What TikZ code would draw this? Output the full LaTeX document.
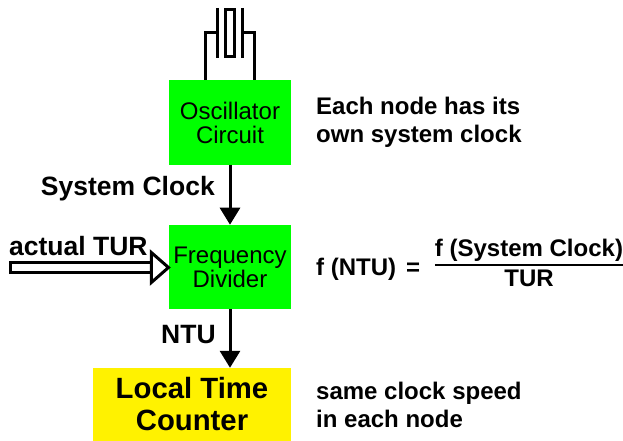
\documentclass[tikz,border=0pt]{standalone}
\usepackage{fontspec}
\setmainfont{Liberation Sans}
\usepackage{xcolor}
\colorlet{colorBlock}{green}
\colorlet{colorCounter}{yellow}
\usetikzlibrary{arrows.meta, positioning}
\tikzset{
  block/.style={fill=colorBlock, minimum width=122pt, minimum height=84pt, inner sep=0pt, align=center, font=\fontsize{24}{24}\selectfont},
  counter/.style={fill=colorCounter, minimum width=198pt, minimum height=73pt, inner sep=0pt, align=center, font=\fontsize{29.3}{32}\selectfont\bfseries},
  note/.style={inner sep=0pt, align=left, font=\fontsize{24}{28}\selectfont\bfseries},
  label/.style={inner sep=0pt, font=\fontsize{26.5}{28}\selectfont\bfseries},
  wire/.style={line width=3pt},
  flow/.style={line width=3pt, -{Triangle[length=17pt, width=20pt]}}
}
\begin{document}
\begin{tikzpicture}[x=1pt, y=1pt]
\useasboundingbox (0,0) rectangle (623,-441);
\node[block] (osc) at (230,-122.5) {Oscillator\\Circuit};
\node[block, below=60pt of osc] (div) {Frequency\\Divider};
\node[counter] (ltc) at (192,-404.5) {Local Time\\Counter};
\node[note, anchor=west] (noteOsc) at (316,-122) {Each node has its\\own system clock};
\node[note, anchor=west] (noteLtc) at (316,-405) {same clock speed\\in each node};
\node[label, anchor=east] (lblClock) at (215,-189) {System Clock};
\node[label, anchor=west] (lblTur) at (9,-246) {actual TUR};
\node[label, anchor=west] (lblNtu) at (161,-335) {NTU};
\node[note, anchor=west] (lblF) at (316,-269) {f (NTU)\hspace{10pt}=};
\node[note, anchor=south] (fracTop) at (529,-262) {f (System Clock)};
\node[note, anchor=north] (fracBot) at (529,-270) {TUR};
% crystal
\coordinate (plateLa) at (217.5,-8);
\coordinate (plateLb) at (217.5,-58);
\coordinate (plateRa) at (242.5,-8);
\coordinate (plateRb) at (242.5,-58);
\coordinate (leadL) at (205.5,-33);
\coordinate (leadR) at (254.5,-33);
\coordinate (tapL) at (217.5,-33);
\coordinate (tapR) at (242.5,-33);
\node[draw, line width=3pt, minimum width=9pt, minimum height=47pt, inner sep=0pt] (quartz) at (230,-33) {};
\draw[wire] (plateLa) -- (plateLb);
\draw[wire] (plateRa) -- (plateRb);
\draw[wire] (tapL) -- (leadL) -- (leadL |- osc.north);
\draw[wire] (tapR) -- (leadR) -- (leadR |- osc.north);
% signals
\draw[flow] (osc) -- (div);
\draw[flow] (div) -- (div |- ltc.north);
\coordinate (turIn) at (9,-267.5);
\draw[line width=3pt, double=white, double distance=7pt, {Bar[width=13pt, line width=3pt, sep=0pt]}-{Triangle[length=21pt, width=36pt, fill=white, line width=3pt]}] (turIn) -- ([xshift=2pt]turIn -| div.west);
\draw[line width=2pt] (fracTop.south west) ++(0,-2.5) coordinate (ruleL) -- (ruleL -| fracTop.south east);
\end{tikzpicture}
\end{document}
